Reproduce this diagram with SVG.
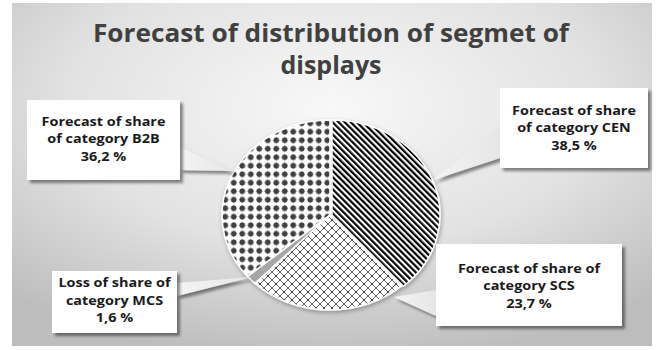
<svg xmlns="http://www.w3.org/2000/svg" width="664" height="350" viewBox="0 0 664 350">
  <defs>
    <radialGradient id="panelFill" cx="50%" cy="30%" r="75%">
      <stop offset="0" stop-color="#f8f8f8"/>
      <stop offset="0.55" stop-color="#e2e2e2"/>
      <stop offset="1" stop-color="#bdbdbd"/>
    </radialGradient>
    <linearGradient id="wedgeFill" x1="0" y1="0" x2="1" y2="0">
      <stop offset="0" stop-color="#f4f4f4"/>
      <stop offset="1" stop-color="#e6e6e6"/>
    </linearGradient>
    <filter id="shadow" x="-20%" y="-20%" width="140%" height="140%">
      <feDropShadow dx="3" dy="3" stdDeviation="1.6" flood-color="#000" flood-opacity="0.45"/>
    </filter>
    <filter id="pieShadow" x="-20%" y="-20%" width="140%" height="140%">
      <feDropShadow dx="1" dy="2" stdDeviation="2" flood-color="#000" flood-opacity="0.3"/>
    </filter>
    <!-- wide downward diagonal stripes -->
    <pattern id="stripes" width="4.3" height="20" patternUnits="userSpaceOnUse" patternTransform="rotate(-45)">
      <rect width="4.3" height="20" fill="#fff"/>
      <rect width="2.2" height="20" fill="#000"/>
    </pattern>
    <!-- dark dot grid -->
    <pattern id="dots" width="8.5" height="8.5" patternUnits="userSpaceOnUse">
      <rect width="8.5" height="8.5" fill="#fff"/>
      <circle cx="4.25" cy="4.25" r="2.8" fill="#3f3f3f"/>
      <path d="M4.25,0.4 L5.2,4.25 L4.25,8.1 L3.3,4.25 Z M0.4,4.25 L4.25,3.3 L8.1,4.25 L4.25,5.2 Z" fill="#3f3f3f"/>
    </pattern>
    <!-- diagonal trellis -->
    <pattern id="trellis" width="8" height="8" patternUnits="userSpaceOnUse">
      <rect width="8" height="8" fill="#fff"/>
      <path d="M0,0 L8,8 M8,0 L0,8" stroke="#606060" stroke-width="1"/>
      <circle cx="4" cy="4" r="0.9" fill="#333"/>
    </pattern>
    <style>
      .title { font-family: "Open Sans", "Liberation Sans", sans-serif; font-weight: bold; font-size: 25px; fill: #404040; text-anchor: middle; }
      .lbl { font-family: "Open Sans", "Liberation Sans", sans-serif; font-weight: bold; font-size: 13px; fill: #1a1a1a; text-anchor: middle; }
      .box { fill: #ffffff; filter: url(#shadow); }
      .wedge { fill: url(#wedgeFill); filter: url(#shadow); }
      .slice { stroke: #ffffff; stroke-width: 1.5; stroke-linejoin: round; }
    </style>
  </defs>

  <!-- chart area -->
  <rect x="12" y="3" width="640" height="343" fill="url(#panelFill)"/>

  <!-- title -->
  <g id="title">
    <text class="title" x="331" y="42" textLength="476" lengthAdjust="spacingAndGlyphs">Forecast of distribution of segmet of</text>
    <text class="title" x="331" y="74">displays</text>
  </g>

  <!-- pie -->
  <g id="pie" filter="url(#pieShadow)">
    <path id="slice-b2b" class="slice" fill="url(#dots)" d="M330,215 L247.63,276.44 A108,95 0 0,1 330,120 Z"/>
    <path id="slice-mcs" class="slice" fill="#a6a6a6" d="M330,215 L255.08,283.42 A108,95 0 0,1 247.63,276.44 Z"/>
    <path id="slice-scs" class="slice" fill="url(#trellis)" d="M330,215 L401.42,286.26 A108,95 0 0,1 255.08,283.42 Z"/>
    <path id="slice-cen" class="slice" fill="url(#stripes)" transform="translate(2,0)" d="M330,215 L330,120 A108,95 0 0,1 401.42,286.26 Z"/>
  </g>

  <!-- callout pointers -->
  <g id="connectors">
    <polygon class="wedge" points="180,147 233,171 180,170"/>
    <polygon class="wedge" points="500,127 433,180 500,158"/>
    <polygon class="wedge" points="177,283 252,277 177,296"/>
    <polygon class="wedge" points="436,290 394,297 436,316"/>
  </g>

  <!-- data labels (text widened slightly about each box centre) -->
  <g id="label-b2b">
    <rect class="box" x="27" y="100" width="153" height="80"/>
    <g transform="translate(103.5,0) scale(1.11,1)">
      <text class="lbl" x="0" y="126">Forecast of share</text>
      <text class="lbl" x="0" y="143.5">of category B2B</text>
      <text class="lbl" x="0" y="161">36,2 %</text>
    </g>
  </g>
  <g id="label-cen">
    <rect class="box" x="500" y="88" width="148" height="80"/>
    <g transform="translate(574,0) scale(1.11,1)">
      <text class="lbl" x="0" y="115">Forecast of share</text>
      <text class="lbl" x="0" y="132.5">of category CEN</text>
      <text class="lbl" x="0" y="150">38,5 %</text>
    </g>
  </g>
  <g id="label-mcs">
    <rect class="box" x="52" y="271" width="125" height="62"/>
    <g transform="translate(114.5,0) scale(1.11,1)">
      <text class="lbl" x="0" y="287.5">Loss of share of</text>
      <text class="lbl" x="0" y="305">category MCS</text>
      <text class="lbl" x="0" y="322.5">1,6 %</text>
    </g>
  </g>
  <g id="label-scs">
    <rect class="box" x="436" y="244" width="186" height="82"/>
    <g transform="translate(529,0) scale(1.11,1)">
      <text class="lbl" x="0" y="273">Forecast of share of</text>
      <text class="lbl" x="0" y="290.5">category SCS</text>
      <text class="lbl" x="0" y="308">23,7 %</text>
    </g>
  </g>
</svg>
